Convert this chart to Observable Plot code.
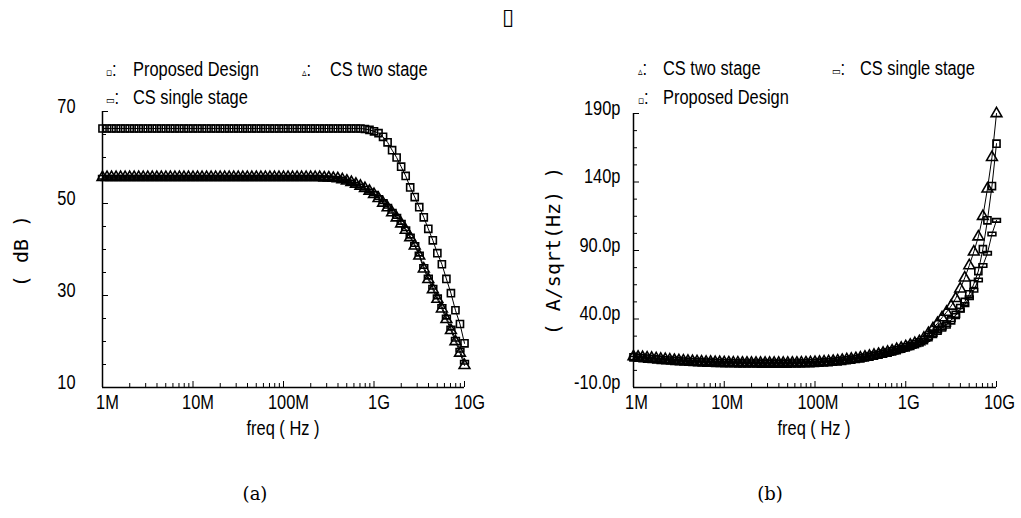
<!DOCTYPE html>
<html><head><meta charset="utf-8">
<script src="https://cdn.jsdelivr.net/npm/d3@7"></script>
<script src="https://cdn.jsdelivr.net/npm/@observablehq/plot@0.6"></script>
<style>
html,body{margin:0;padding:0;background:#fff;}
#root{position:relative;width:1021px;height:518px;overflow:hidden;background:#fff;}
.t{position:absolute;white-space:nowrap;color:#000;font-family:"Liberation Sans","Arial",sans-serif;font-size:20px;line-height:1;}
.mk{font-family:"DejaVu Sans",sans-serif;font-size:11px;}
.mono{font-family:"DejaVu Sans Mono",monospace;font-size:20px;}
.serif{font-family:"DejaVu Serif","Liberation Serif",serif;font-size:18px;}
.chart{position:absolute;top:0;}
</style></head><body><div id="root"></div>
<script>
// ---------- data ----------
const freqExp = [
  6.00,6.05,6.10,6.15,6.20,6.25,6.30,6.35,6.40,6.45,6.50,6.55,6.60,6.65,6.70,6.75,6.80,6.85,6.90,6.95,
  7.00,7.05,7.10,7.15,7.20,7.25,7.30,7.35,7.40,7.45,7.50,7.55,7.60,7.65,7.70,7.75,7.80,7.85,7.90,7.95,
  8.00,8.05,8.10,8.15,8.20,8.25,8.30,8.35,8.40,8.45,8.50,8.55,8.60,8.65,8.70,8.75,8.80,8.85,8.90,8.95,
  9.00,9.05,9.10,9.15,9.20,9.25,9.30,9.35,9.40,9.45,9.50,9.55,9.60,9.65,9.70,9.75,9.80,9.85,9.90,9.95,
  10.00];

// (a) gain in dB
const gainProposed = [
  66.3,66.3,66.3,66.3,66.3,66.3,66.3,66.3,66.3,66.3,66.3,66.3,66.3,66.3,66.3,66.3,66.3,66.3,66.3,66.3,
  66.3,66.3,66.3,66.3,66.3,66.3,66.3,66.3,66.3,66.3,66.3,66.3,66.3,66.3,66.3,66.3,66.3,66.3,66.3,66.3,
  66.3,66.3,66.3,66.3,66.3,66.3,66.3,66.3,66.3,66.3,66.3,66.3,66.3,66.3,66.3,66.3,66.3,66.3,66.2,66.0,
  65.7,65.3,64.5,63.3,61.6,60.0,58.0,56.0,53.5,51.4,49.2,47.0,44.5,42.0,39.2,36.8,33.6,30.5,26.8,23.8,
  19.6];
const gainTwoStage = [
  55.7,55.7,55.7,55.7,55.7,55.7,55.7,55.7,55.7,55.7,55.7,55.7,55.7,55.7,55.7,55.7,55.7,55.7,55.7,55.7,
  55.7,55.7,55.7,55.7,55.7,55.7,55.7,55.7,55.7,55.7,55.7,55.7,55.7,55.7,55.7,55.7,55.7,55.7,55.7,55.7,
  55.7,55.7,55.7,55.7,55.7,55.7,55.7,55.7,55.7,55.6,55.6,55.5,55.4,55.2,54.9,54.6,54.2,53.8,53.3,52.7,
  52.0,51.1,50.1,49.1,48.0,46.9,45.6,44.2,42.6,40.8,38.6,35.8,33.5,31.3,29.2,27.1,24.8,22.4,20.0,17.5,
  14.8];
const gainSingleStage = [
  55.7,55.7,55.7,55.7,55.7,55.7,55.7,55.7,55.7,55.7,55.7,55.7,55.7,55.7,55.7,55.7,55.7,55.7,55.7,55.7,
  55.7,55.7,55.7,55.7,55.7,55.7,55.7,55.7,55.7,55.7,55.7,55.7,55.7,55.7,55.7,55.7,55.7,55.7,55.7,55.7,
  55.7,55.7,55.7,55.7,55.7,55.7,55.7,55.7,55.7,55.6,55.6,55.5,55.4,55.2,54.9,54.6,54.2,53.8,53.3,52.7,
  52.2,51.3,50.4,49.4,48.3,47.2,45.9,44.5,42.9,41.1,39.0,36.3,34.0,31.8,29.7,27.6,25.3,22.9,20.5,18.1,
  15.5];

// (b) noise in pA/sqrt(Hz)
const noiseProposed = [
  12.0,11.7,11.4,11.1,10.8,10.5,10.2,9.9,9.7,9.4,9.2,9.0,8.8,8.6,8.5,8.3,8.2,8.1,8.0,7.9,
  7.8,7.7,7.7,7.6,7.6,7.5,7.5,7.5,7.4,7.4,7.4,7.4,7.4,7.4,7.4,7.5,7.5,7.6,7.7,7.8,
  7.9,8.1,8.3,8.5,8.8,9.1,9.5,9.9,10.3,10.8,11.3,11.9,12.5,13.2,13.9,14.7,15.5,16.4,17.3,18.3,
  19.3,20.4,21.6,22.9,24.5,26.8,29.2,31.5,33.8,36.0,39.0,43.0,48.0,52.5,58.0,65.5,75.0,91.0,112.0,137.0,
  168.0];
const noiseTwoStage = [
  12.6,12.3,12.0,11.7,11.4,11.1,10.8,10.5,10.2,9.9,9.7,9.5,9.3,9.1,8.9,8.7,8.6,8.5,8.4,8.3,
  8.2,8.1,8.0,8.0,7.9,7.9,7.8,7.8,7.8,7.8,7.8,7.8,7.8,7.8,7.8,7.9,7.9,8.0,8.1,8.2,
  8.3,8.5,8.7,8.9,9.2,9.5,9.9,10.3,10.7,11.2,11.7,12.3,12.9,13.6,14.3,15.1,15.9,16.8,17.8,18.8,
  19.9,21.0,22.2,23.6,26.0,29.5,33.0,36.8,41.0,45.0,49.5,55.0,62.0,70.0,79.0,89.0,100.0,115.0,135.0,158.0,
  190.0];
const noiseSingleStage = [
  11.4,11.1,10.8,10.5,10.2,9.9,9.6,9.4,9.1,8.9,8.7,8.5,8.3,8.2,8.0,7.9,7.8,7.7,7.6,7.5,
  7.4,7.3,7.3,7.2,7.2,7.1,7.1,7.1,7.0,7.0,7.0,7.0,7.0,7.0,7.0,7.1,7.1,7.2,7.3,7.4,
  7.5,7.7,7.9,8.1,8.4,8.7,9.1,9.5,9.9,10.4,10.9,11.5,12.1,12.8,13.5,14.3,15.1,16.0,16.9,17.9,
  18.9,20.0,21.2,22.6,24.3,26.5,28.8,31.2,33.5,36.0,39.5,42.5,46.5,50.5,55.5,61.0,68.5,79.0,88.0,102.0,
  112.0];

// axes
const xDomain = [1e6, 1e10];
const xTicks = [1e6, 1e7, 1e8, 1e9, 1e10];
const xTickLabels = ["1M", "10M", "100M", "1G", "10G"];
const xMinorMultipliers = [2, 3, 4, 5, 6, 7, 8, 9];
const xDecades = [1e6, 1e7, 1e8, 1e9];

const yDomainA = [10, 70];
const yTicksA = [10, 30, 50, 70];
const yTickLabelsA = ["10", "30", "50", "70"];
const yMinorA = [15, 20, 25, 35, 40, 45, 55, 60, 65];

const yDomainB = [-10, 190];
const yTicksB = [-10, 40, 90, 140, 190];
const yTickLabelsB = ["-10.0p", "40.0p", "90.0p", "140p", "190p"];
const yMinorB = [2.5, 15, 27.5, 52.5, 65, 77.5, 102.5, 115, 127.5, 152.5, 165, 177.5];

const seriesNames = ["Proposed Design", "CS two stage", "CS single stage"];

// ---------- drawing ----------
const SANS = '"Liberation Sans","Arial",sans-serif';
const SQUEEZE = 0.82;
const H = 430;
const root = document.getElementById("root");
const xMinor = xDecades.flatMap(d => xMinorMultipliers.map(m => d * m));

const flatRect = {
  draw(context, size) {
    const w = Math.sqrt(size) * 1.1, h = w * 0.45;
    context.rect(-w / 2, -h / 2, w, h);
  }
};
const symbols = {"Proposed Design": "square", "CS two stage": "triangle", "CS single stage": flatRect};

function rows(values) { return values.map((v, i) => ({f: Math.pow(10, freqExp[i]), v})); }

function chart({width, mL, mR, mT, mB, yDomain, yTicks, yLabels, yMinor, padY, dxLabel, series}) {
  const innerW = width - mL - mR, innerH = H - mT - mB;
  const yFmt = new Map(yTicks.map((t, i) => [t, yLabels[i]]));
  const xFmt = new Map(xTicks.map((t, i) => [t, xTickLabels[i]]));
  return Plot.plot({
    width, height: H,
    marginLeft: mL, marginRight: mR, marginTop: mT, marginBottom: mB,
    style: {background: "transparent", color: "black", fontFamily: SANS, fontSize: "20px", overflow: "visible"},
    x: {type: "log", domain: xDomain},
    y: {domain: yDomain},
    marks: [
      Plot.axisX({ticks: xTicks, tickFormat: d => xFmt.get(d), tickSize: 0, tickPadding: 7, label: null, fontSize: 20, dx: dxLabel}),
      Plot.axisY({ticks: yTicks, tickFormat: d => yFmt.get(d), tickSize: 0, tickPadding: padY, label: null, fontSize: 20, dy: -5}),
      Plot.tickX(xMinor, {x: d => d, insetTop: innerH - 4, stroke: "black"}),
      Plot.tickX(xTicks, {x: d => d, insetTop: innerH - 6, stroke: "black"}),
      Plot.tickY(yMinor, {y: d => d, insetRight: innerW - 4, stroke: "black"}),
      Plot.tickY(yTicks, {y: d => d, insetRight: innerW - 6, stroke: "black"}),
      Plot.ruleX([xDomain[0]], {stroke: "black", strokeWidth: 1.5}),
      Plot.ruleY([yDomain[0]], {stroke: "black", strokeWidth: 1.5}),
      ...series.flatMap(s => [
        Plot.line(rows(s.values), {x: "f", y: "v", stroke: "black", strokeWidth: 1}),
        Plot.dot(rows(s.values), {x: "f", y: "v", symbol: symbols[s.name], r: 4, stroke: "black", fill: "none", strokeWidth: 1.6})
      ])
    ]
  });
}

function squeeze(svg) {
  svg.querySelectorAll("text").forEach(t => {
    const L = t.getComputedTextLength();
    if (L > 0) {
      t.setAttribute("textLength", (L * SQUEEZE).toFixed(1));
      t.setAttribute("lengthAdjust", "spacingAndGlyphs");
    }
  });
}

const svgA = chart({
  width: 510, mL: 102, mR: 46, mT: 111, mB: 43,
  yDomain: yDomainA, yTicks: yTicksA, yLabels: yTickLabelsA, yMinor: yMinorA, padY: 27, dxLabel: 5,
  series: [
    {name: seriesNames[2], values: gainSingleStage},
    {name: seriesNames[1], values: gainTwoStage},
    {name: seriesNames[0], values: gainProposed}
  ]
});
svgA.classList.add("chart"); svgA.style.left = "0px";
root.appendChild(svgA);
squeeze(svgA);

const svgB = chart({
  width: 511, mL: 123, mR: 25, mT: 113, mB: 43,
  yDomain: yDomainB, yTicks: yTicksB, yLabels: yTickLabelsB, yMinor: yMinorB, padY: 13, dxLabel: 3,
  series: [
    {name: seriesNames[2], values: noiseSingleStage},
    {name: seriesNames[0], values: noiseProposed},
    {name: seriesNames[1], values: noiseTwoStage}
  ]
});
svgB.classList.add("chart"); svgB.style.left = "510px";
root.appendChild(svgB);
squeeze(svgB);

// ---------- texts ----------
function put(html, x, y, cls = "t", anchor = "left", rotate = false, sx = 1) {
  const d = document.createElement("div");
  d.className = cls;
  d.innerHTML = html;
  d.style.left = x + "px";
  d.style.top = y + "px";
  const tx = anchor === "left" ? "0" : anchor === "right" ? "-100%" : "-50%";
  d.style.transformOrigin = anchor === "left" ? "0 50%" : "50% 50%";
  d.style.transform = `translate(${tx},-50%)` + (rotate ? " rotate(-90deg)" : "") + (sx !== 1 ? ` scaleX(${sx})` : "");
  root.appendChild(d);
  return d;
}
const mk = {"Proposed Design": "▫", "CS two stage": "▵", "CS single stage": "▭"};
function legendItem(name, mx, tx, y) {
  put(`<span class="mk">${mk[name]}</span>:`, mx, y, "t", "left", false, SQUEEZE);
  put(name, tx, y, "t", "left", false, SQUEEZE);
}
// legend (a)
legendItem(seriesNames[0], 106, 133, 69);
legendItem(seriesNames[1], 302, 330, 69);
legendItem(seriesNames[2], 106, 133, 97);
// legend (b)
legendItem(seriesNames[1], 638, 663, 68);
legendItem(seriesNames[2], 832, 860, 68);
legendItem(seriesNames[0], 638, 663, 97);

// axis titles
put("freq ( Hz )", 283, 428, "t", "center", false, SQUEEZE);
put("freq ( Hz )", 814, 428, "t", "center", false, SQUEEZE);
put("( dB )", 21, 251, "t mono", "center", true);
put("( A/sqrt(Hz) )", 553, 251, "t mono", "center", true);

// captions
put("(a)", 255, 494, "t serif", "center");
put("(b)", 770, 494, "t serif", "center");
put("▯", 508, 17, "t mk", "center").style.fontSize = "22px";
</script></body></html>
